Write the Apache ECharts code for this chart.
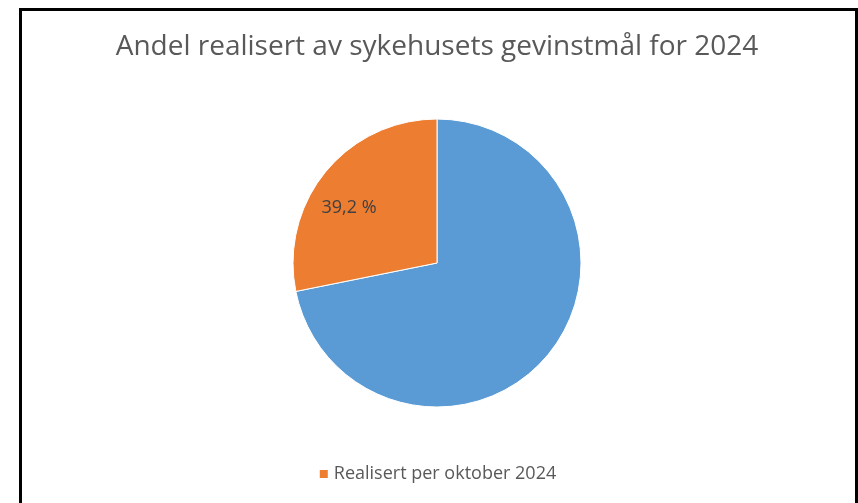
<!DOCTYPE html>
<html>
<head>
<meta charset="utf-8">
<script src="https://cdn.jsdelivr.net/npm/echarts@6/dist/echarts.min.js"></script>
<style>
html,body{margin:0;padding:0;background:#fff;width:858px;height:503px;overflow:hidden;}
#frame{position:absolute;left:19px;top:8px;width:833px;height:520px;border:3px solid #000;border-bottom:none;}
#chart{position:absolute;left:22px;top:0;width:830px;height:503px;}
</style>
</head>
<body>
<div id="frame"></div>
<div id="chart"></div>
<script>
const titleText = 'Andel realisert av sykehusets gevinstmål for 2024';
const categories = ['Gjenstår', 'Realisert per oktober 2024'];
const values = [100, 39.2];
const labels = ['', '39,2 %'];
const colors = ['#5B9BD5', '#ED7D31'];

const chart = echarts.init(document.getElementById('chart'));
chart.setOption({
  animation: false,
  title: {
    text: titleText,
    left: 'center',
    top: 28,
    textStyle: {fontFamily: 'Open Sans', fontWeight: 'normal', fontSize: 28, color: '#595959'}
  },
  legend: {
    data: [categories[1]],
    bottom: 15,
    left: 'center',
    itemWidth: 10,
    itemHeight: 10,
    itemGap: 6,
    icon: 'rect',
    textStyle: {fontFamily: 'Open Sans', fontSize: 18, color: '#595959'}
  },
  series: [{
    type: 'pie',
    center: ['50%', 263],
    radius: 144,
    startAngle: 90,
    clockwise: true,
    silent: true,
    itemStyle: {borderColor: '#fff', borderWidth: 1},
    data: categories.map((c, i) => ({
      name: c,
      value: values[i],
      itemStyle: {color: colors[i]},
      label: {
        show: labels[i] !== '',
        position: 'inside',
        formatter: labels[i],
        offset: [-30, -8],
        fontFamily: 'Open Sans',
        fontSize: 18,
        color: '#404040'
      }
    })),
    labelLine: {show: false}
  }]
});
</script>
</body>
</html>
